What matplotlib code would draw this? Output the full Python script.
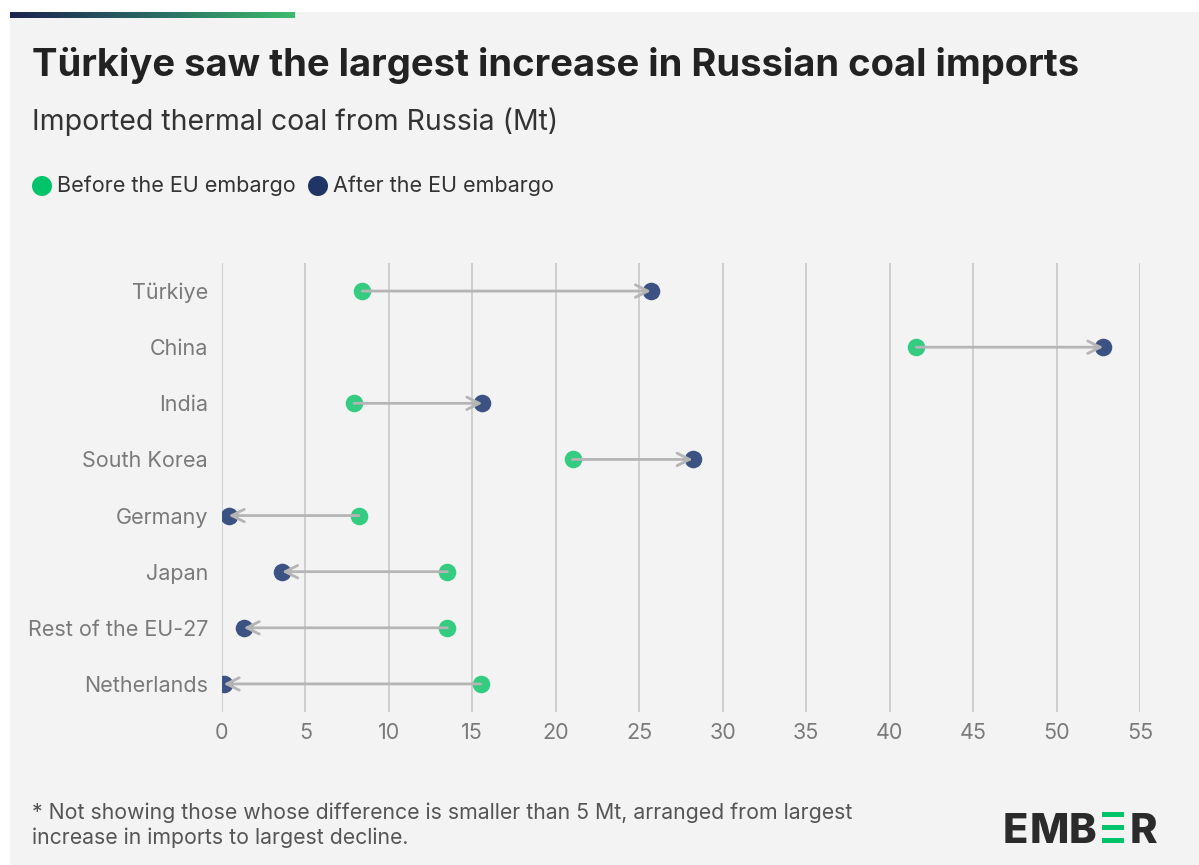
import matplotlib.pyplot as plt
from matplotlib.patches import Rectangle, Ellipse
from matplotlib.colors import LinearSegmentedColormap
import numpy as np

# data (Mt of thermal coal imported from Russia)
countries = ['Türkiye', 'China', 'India', 'South Korea', 'Germany', 'Japan',
             'Rest of the EU-27', 'Netherlands']
before = [8.4, 41.6, 7.9, 21.0, 8.2, 13.5, 13.5, 15.5]
after = [25.7, 52.8, 15.6, 28.2, 0.4, 3.6, 1.3, 0.1]
xticks = [0, 5, 10, 15, 20, 25, 30, 35, 40, 45, 50, 55]

green = '#33cc80'
navy = '#3b5282'
bg = '#f3f3f3'

plt.rcParams['font.family'] = ['Inter', 'DejaVu Sans']

W, H = 1199, 865
fig = plt.figure(figsize=(W / 100, H / 100), dpi=100, facecolor='white')

# grey card behind everything
fig.patches.append(Rectangle((10 / W, 0), 1, 1 - 12 / H, transform=fig.transFigure,
                             facecolor=bg, edgecolor='none', zorder=-10))

# gradient bar at the top
grad = np.linspace(0, 1, 256).reshape(1, -1)
bar_ax = fig.add_axes([10 / W, 1 - 18 / H, 285 / W, 6 / H])
cmap = LinearSegmentedColormap.from_list('ember', ['#1c2350', '#2a6a63', '#3dbb6c'])
bar_ax.imshow(grad, aspect='auto', cmap=cmap)
bar_ax.axis('off')

ax = fig.add_axes([222 / W, 1 - 712 / H, 918 / W, 449 / H])
ax.set_facecolor(bg)
y = np.arange(len(countries))

ax.scatter(before, y, s=160, color=green, zorder=3, linewidths=0)
ax.scatter(after, y, s=160, color=navy, zorder=3, linewidths=0)
for b, a, yy in zip(before, after, y):
    ax.annotate('', xy=(a, yy), xytext=(b, yy),
                arrowprops=dict(arrowstyle='->,head_length=0.9,head_width=0.45',
                                color='#b5b5b5', lw=2, shrinkA=0, shrinkB=0),
                zorder=4)

ax.set_xlim(0, 55)
ax.set_ylim(len(countries) - 0.5, -0.5)
ax.set_xticks(xticks)
ax.set_yticks(y)
ax.set_yticklabels(countries)
ax.grid(axis='x', color='#c8c8c8', lw=1.2)
ax.set_axisbelow(True)
for s in ax.spines.values():
    s.set_visible(False)
ax.tick_params(length=0, labelsize=15.5, labelcolor='#7a7a7a')
ax.tick_params(axis='y', pad=10)
ax.tick_params(axis='x', pad=8)

# titles
fig.text(32 / W, 1 - 65 / H, 'Türkiye saw the largest increase in Russian coal imports',
         fontsize=27.5, fontweight='bold', color='#222222', va='center')
fig.text(32 / W, 1 - 122 / H, 'Imported thermal coal from Russia (Mt)',
         fontsize=20.5, color='#333333', va='center')

# legend
for cx, col in [(42, '#00c46a'), (318, '#1f3566')]:
    fig.patches.append(Ellipse((cx / W, 1 - 186 / H), 20 / W, 20 / H,
                               transform=fig.transFigure, facecolor=col,
                               edgecolor='none'))
fig.text(57 / W, 1 - 186 / H, 'Before the EU embargo', fontsize=15.5, color='#333333', va='center')
fig.text(333 / W, 1 - 186 / H, 'After the EU embargo', fontsize=15.5, color='#333333', va='center')

# footnote
fig.text(32 / W, 1 - 813 / H,
         '* Not showing those whose difference is smaller than 5 Mt, arranged from largest',
         fontsize=15.3, color='#555555', va='center')
fig.text(32 / W, 1 - 838 / H, 'increase in imports to largest decline.',
         fontsize=15.3, color='#555555', va='center')

# EMBER logo
for ch, x0 in [('E', 1003), ('M', 1030), ('B', 1069), ('R', 1130)]:
    fig.text(x0 / W, 1 - 843 / H, ch, fontsize=30, fontweight='heavy',
             color='#2b2b2b', va='baseline')
for yy in (812, 825, 838):
    fig.patches.append(Rectangle((1102 / W, 1 - (yy + 5) / H), 22 / W, 5 / H,
                                 transform=fig.transFigure, facecolor='#00c46a',
                                 edgecolor='none'))

fig.savefig('out.png', dpi=100, facecolor=fig.get_facecolor())
